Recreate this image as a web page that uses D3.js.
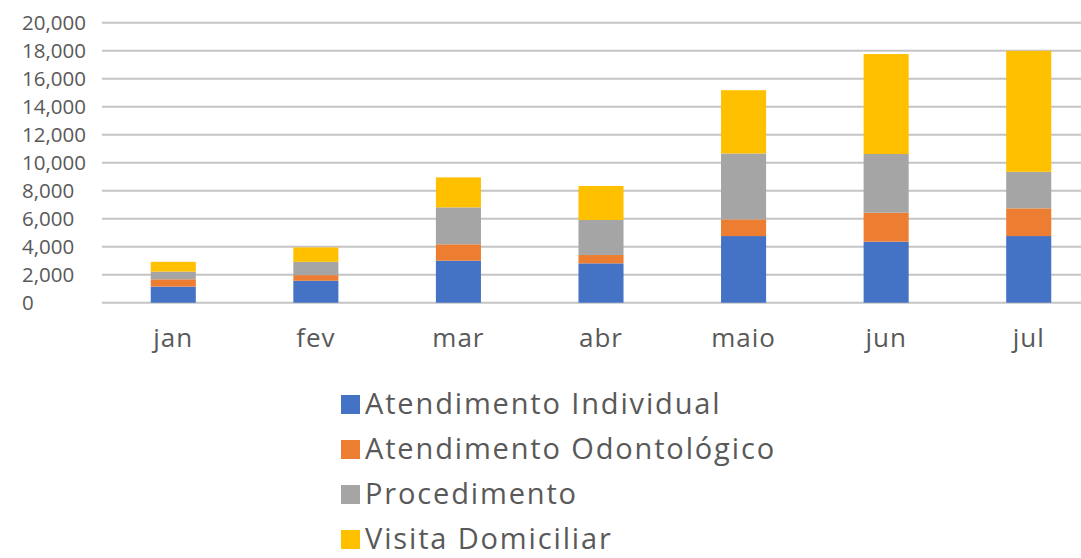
<!DOCTYPE html>
<html>
<head>
<meta charset="utf-8">
<script src="https://d3js.org/d3.v7.min.js"></script>
<style>
  body { margin: 0; background: #fff; }
  text { font-family: "Open Sans", sans-serif; fill: #595959; }
</style>
</head>
<body>
<script>
// months on the x axis
var months = ["jan", "fev", "mar", "abr", "maio", "jun", "jul"];
var seriesNames = ["Atendimento Individual", "Atendimento Odontológico", "Procedimento", "Visita Domiciliar"];
var seriesColors = ["#4472C4", "#ED7D31", "#A5A5A5", "#FFC000"];

// values
var individual  = [1150, 1570, 3000, 2810, 4760, 4360, 4760];
var odonto      = [520, 400, 1170, 600, 1190, 2070, 1980];
var procedimento = [550, 950, 2640, 2500, 4710, 4190, 2610];
var visita      = [700, 1030, 2140, 2430, 4520, 7140, 8640];

var yTicks = [0, 2000, 4000, 6000, 8000, 10000, 12000, 14000, 16000, 18000, 20000];

var width = 1081, height = 558;

var svg = d3.select("body").append("svg")
  .attr("width", width)
  .attr("height", height);

// build rows for d3.stack
var rows = months.map(function(m, i) {
  return { month: m, s0: individual[i], s1: odonto[i], s2: procedimento[i], s3: visita[i] };
});
var stack = d3.stack().keys(["s0", "s1", "s2", "s3"]);
var layers = stack(rows);

var x = d3.scaleBand()
  .domain(months)
  .range([102, 1100])
  .paddingInner(0.684)
  .paddingOuter(0.342);

var y = d3.scaleLinear()
  .domain([0, 20000])
  .range([302.7, 22.7]);

// gridlines
svg.append("g")
  .selectAll("line")
  .data(yTicks)
  .join("line")
  .attr("x1", 102)
  .attr("x2", width)
  .attr("y1", function(d) { return y(d); })
  .attr("y2", function(d) { return y(d); })
  .attr("stroke", "#c4c4c4")
  .attr("stroke-width", 2);

// y labels, left aligned like the original
svg.append("g")
  .selectAll("text")
  .data(yTicks)
  .join("text")
  .attr("x", 22)
  .attr("y", function(d) { return y(d); })
  .attr("dy", "0.36em")
  .style("font-size", "20.5px")
  .text(d3.format(","));

// stacked bars
svg.append("g")
  .selectAll("g")
  .data(layers)
  .join("g")
  .attr("fill", function(d, i) { return seriesColors[i]; })
  .selectAll("rect")
  .data(function(d) { return d; })
  .join("rect")
  .attr("x", function(d) { return x(d.data.month); })
  .attr("y", function(d) { return y(d[1]); })
  .attr("width", x.bandwidth())
  .attr("height", function(d) { return y(d[0]) - y(d[1]); });

// x labels
svg.append("g")
  .selectAll("text")
  .data(months)
  .join("text")
  .attr("x", function(d) { return x(d) + x.bandwidth() / 2; })
  .attr("y", 347)
  .attr("text-anchor", "middle")
  .style("font-size", "26px")
  .style("letter-spacing", "1px")
  .text(function(d) { return d; });

// legend
var legend = svg.append("g")
  .selectAll("g")
  .data(seriesNames)
  .join("g")
  .attr("transform", function(d, i) { return "translate(341," + (395 + i * 45) + ")"; });

legend.append("rect")
  .attr("width", 19)
  .attr("height", 19)
  .attr("fill", function(d, i) { return seriesColors[i]; });

legend.append("text")
  .attr("x", 24)
  .attr("y", 19)
  .style("font-size", "29px")
  .style("letter-spacing", "1.85px")
  .text(function(d) { return d; });
</script>
</body>
</html>
